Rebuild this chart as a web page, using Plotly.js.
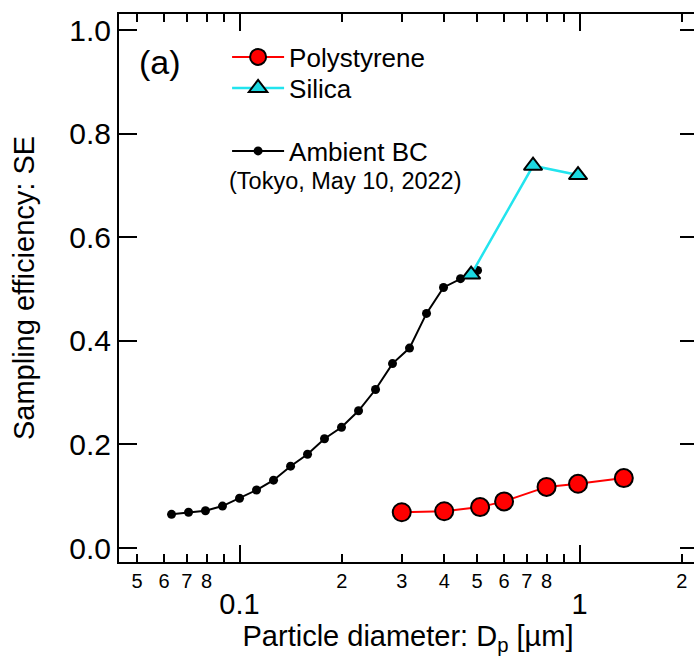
<!DOCTYPE html>
<html>
<head>
<meta charset="utf-8">
<script src="https://cdn.plot.ly/plotly-3.0.1.min.js"></script>
<style>
html, body { margin: 0; padding: 0; overflow: hidden; background: #fff; width: 694px; height: 656px; }
#frame { width: 694px; height: 656px; overflow: hidden; position: relative; }
#chart { width: 698px; height: 656px; position: absolute; left: 0; top: 0; }
</style>
</head>
<body>
<div id="frame"><div id="chart"></div></div>
<script>
// ---- data ----
const bcDiameter = [0.0631, 0.0708, 0.0794, 0.0891, 0.1, 0.1122, 0.1259, 0.1413, 0.1585, 0.1778,
                    0.1995, 0.2239, 0.2512, 0.2818, 0.3162, 0.3548, 0.3981, 0.4467, 0.5012];
const bcSE = [0.065, 0.069, 0.072, 0.081, 0.096, 0.112, 0.131, 0.158, 0.181, 0.211,
              0.233, 0.265, 0.306, 0.356, 0.386, 0.453, 0.503, 0.520, 0.536];

const psDiameter = [0.30, 0.40, 0.51, 0.60, 0.80, 0.99, 1.35];
const psSE = [0.069, 0.071, 0.079, 0.090, 0.118, 0.124, 0.135];

const siDiameter = [0.48, 0.73, 0.99];
const siSE = [0.528, 0.738, 0.720];

// tick labels of the log axis
const xTickVals = [0.05, 0.06, 0.07, 0.08, 0.09, 0.1, 0.2, 0.3, 0.4, 0.5, 0.6, 0.7, 0.8, 0.9, 1, 2];
const xTickLabels = ['5', '6', '7', '8', '', '0.1', '2', '3', '4', '5', '6', '7', '8', '', '1', '2'];
const xDecadeVals = [0.1, 1];
const yTickVals = [0.0, 0.2, 0.4, 0.6, 0.8, 1.0];
const yTickText = ['0.0', '0.2', '0.4', '0.6', '0.8', '1.0'];

const FONT = 'Liberation Sans, Arial, sans-serif';
const xRange = [Math.log10(0.04421), Math.log10(2.216)];
const yRange = [-0.027, 1.031];

// decade labels sit on a second, larger line
const xTickText = xTickVals.map((v, i) =>
  xDecadeVals.includes(v) ? '<br><span style="font-size:29px">' + xTickLabels[i] + '</span>' : xTickLabels[i]);

const traces = [
  {
    x: bcDiameter, y: bcSE, name: 'Ambient BC', type: 'scatter', mode: 'lines+markers',
    line: {color: '#000000', width: 2},
    marker: {color: '#000000', size: 9, symbol: 'circle'},
    legend: 'legend3'
  },
  {
    x: psDiameter, y: psSE, name: 'Polystyrene', type: 'scatter', mode: 'lines+markers',
    line: {color: '#ff0000', width: 2},
    marker: {color: '#ff0000', size: 18, symbol: 'circle', line: {color: '#000000', width: 2}},
    legend: 'legend'
  },
  {
    x: siDiameter, y: siSE, name: 'Silica', type: 'scatter', mode: 'lines+markers',
    yaxis: 'y2',
    line: {color: '#22e4ee', width: 2.5},
    marker: {color: '#1cd8e0', size: 16, symbol: 'triangle-up', line: {color: '#000000', width: 2}},
    legend: 'legend2'
  }
];

function legendAt(y) {
  return {
    x: 0.187, y: y, xanchor: 'left', yanchor: 'middle',
    font: {family: FONT, size: 26, color: '#000000'},
    bgcolor: 'rgba(0,0,0,0)', borderwidth: 0, itemwidth: 52
  };
}

const layout = {
  width: 698, height: 656,
  margin: {l: 119, r: 1, t: 14, b: 94, autoexpand: false},
  paper_bgcolor: '#ffffff', plot_bgcolor: '#ffffff',
  font: {family: FONT, color: '#000000'},
  showlegend: true,
  legend: legendAt(0.9215),
  legend2: legendAt(0.865),
  legend3: legendAt(0.75),
  xaxis: {
    type: 'log', range: xRange, autorange: false,
    tickmode: 'array', tickvals: xTickVals, ticktext: xTickText,
    ticks: 'inside', ticklen: 8, tickwidth: 2, tickcolor: '#000000',
    tickfont: {family: FONT, size: 20, color: '#000000'},
    minor: {tickmode: 'array', tickvals: xDecadeVals, ticks: 'inside', ticklen: 17, tickwidth: 2, tickcolor: '#000000', showgrid: false},
    showline: true, linewidth: 2, linecolor: '#000000', mirror: 'allticks',
    showgrid: false, zeroline: false,
    title: {text: 'Particle diameter: D<sub>p</sub> [µm]', font: {family: FONT, size: 29, color: '#000000'}, standoff: 4}
  },
  yaxis: {
    range: yRange, autorange: false,
    tickmode: 'array', tickvals: yTickVals, ticktext: yTickText,
    ticks: 'inside', ticklen: 18, tickwidth: 2, tickcolor: '#000000',
    tickfont: {family: FONT, size: 30, color: '#000000'},
    showline: true, linewidth: 2, linecolor: '#000000', mirror: false,
    showgrid: false, zeroline: false,
    title: {text: 'Sampling efficiency: SE', font: {family: FONT, size: 29, color: '#000000'}, standoff: 26}
  },
  yaxis2: {
    range: yRange, autorange: false, matches: 'y',
    overlaying: 'y', side: 'right', anchor: 'x',
    tickmode: 'array', tickvals: yTickVals,
    ticks: 'inside', ticklen: 17, tickwidth: 2, tickcolor: '#000000',
    showticklabels: false, showline: false, showgrid: false, zeroline: false
  },
  annotations: [
    {text: '(a)', xref: 'paper', yref: 'paper', x: 0.071, y: 0.912, xanchor: 'center', yanchor: 'middle',
     showarrow: false, font: {family: FONT, size: 34, color: '#000000'}},
    {text: '(Tokyo, May 10, 2022)', xref: 'paper', yref: 'paper', x: 0.1865, y: 0.695, xanchor: 'left', yanchor: 'middle',
     showarrow: false, font: {family: FONT, size: 23.5, color: '#000000'}}
  ]
};

Plotly.newPlot('chart', traces, layout, {displayModeBar: false, responsive: false});
</script>
</body>
</html>
